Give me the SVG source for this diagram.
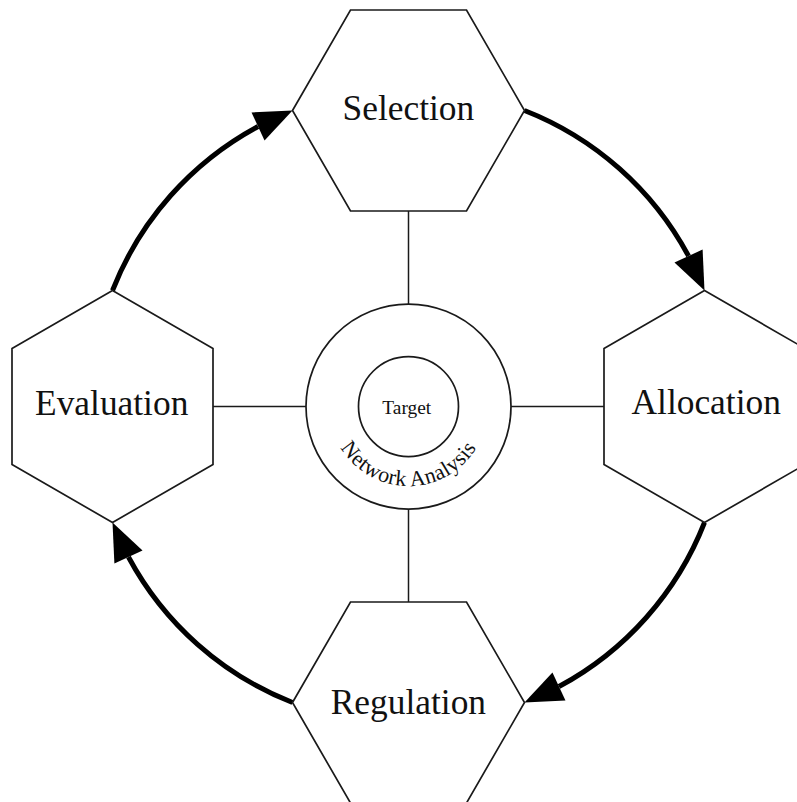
<svg xmlns="http://www.w3.org/2000/svg" xmlns:xlink="http://www.w3.org/1999/xlink" width="797" height="802" viewBox="0 0 797 802">
  <style>
    .hex { fill: #ffffff; stroke: #1a1a1a; stroke-width: 1.7; stroke-linejoin: miter; }
    .ring { fill: #ffffff; stroke: #1a1a1a; stroke-width: 1.7; }
    .link { stroke: #1a1a1a; stroke-width: 1.5; fill: none; }
    .flow { stroke: #000000; stroke-width: 5; fill: none; marker-end: url(#head); }
    .label { font-family: "Liberation Serif", "Times New Roman", serif; font-size: 35.4px; fill: #111111; text-anchor: middle; }
    .small { font-family: "Liberation Serif", "Times New Roman", serif; font-size: 19.4px; fill: #111111; text-anchor: middle; }
    .arc-label { font-family: "Liberation Serif", "Times New Roman", serif; font-size: 22px; fill: #111111; text-anchor: middle; letter-spacing: 0.3px; }
  </style>
  <defs>
    <!-- arrowhead tilted toward the chord of the cycle circle -->
    <marker id="head" markerUnits="userSpaceOnUse" markerWidth="40" markerHeight="40" viewBox="0 -20 40 40" refX="0" refY="0" orient="auto" overflow="visible">
      <polygon points="0.93,-15.47 37.93,2.27 -0.93,15.47" fill="#000000"/>
    </marker>
    <path id="ringPath" d="M329,406.6 A79.5,79.5 0 0 0 488,406.6"/>
  </defs>

  <rect width="797" height="802" fill="#ffffff"/>

  <!-- spokes and cycle arrows -->
  <g id="connectors">
    <line class="link" x1="408.5" y1="211" x2="408.5" y2="304"/>
    <line class="link" x1="511" y1="406.5" x2="604" y2="406.5"/>
    <line class="link" x1="408.5" y1="509" x2="408.5" y2="602"/>
    <line class="link" x1="213" y1="406.5" x2="306" y2="406.5"/>
    <path class="flow" d="M112.5,290.5 A317.9,317.9 0 0 1 258.04,126.46"/>
    <path class="flow" d="M524.5,110.5 A317.9,317.9 0 0 1 688.54,256.04"/>
    <path class="flow" d="M704.5,522.5 A317.9,317.9 0 0 1 558.96,686.54"/>
    <path class="flow" d="M292.5,702.5 A317.9,317.9 0 0 1 128.46,556.96"/>
  </g>

  <g id="selection">
    <polygon class="hex" points="292.5,110.5 350.5,10 466.5,10 524.5,110.5 466.5,211 350.5,211"/>
    <text class="label" x="408.4" y="120">Selection</text>
  </g>

  <g id="allocation">
    <polygon class="hex" points="704.5,290.5 805,348.5 805,464.5 704.5,522.5 604,464.5 604,348.5"/>
    <text class="label" x="706.2" y="414.3">Allocation</text>
  </g>

  <g id="regulation">
    <polygon class="hex" points="292.5,702.5 350.5,602 466.5,602 524.5,702.5 466.5,803 350.5,803"/>
    <text class="label" x="408.4" y="714">Regulation</text>
  </g>

  <g id="evaluation">
    <polygon class="hex" points="112.5,290.5 213,348.5 213,464.5 112.5,522.5 12,464.5 12,348.5"/>
    <text class="label" x="111.7" y="415">Evaluation</text>
  </g>

  <g id="network-analysis">
    <circle class="ring" cx="408.5" cy="406.6" r="102.5"/>
    <text class="arc-label"><textPath xlink:href="#ringPath" href="#ringPath" startOffset="50%">Network Analysis</textPath></text>
  </g>

  <g id="target">
    <circle class="ring" cx="408.5" cy="406.6" r="50"/>
    <text class="small" x="406.8" y="414.3">Target</text>
  </g>
</svg>
